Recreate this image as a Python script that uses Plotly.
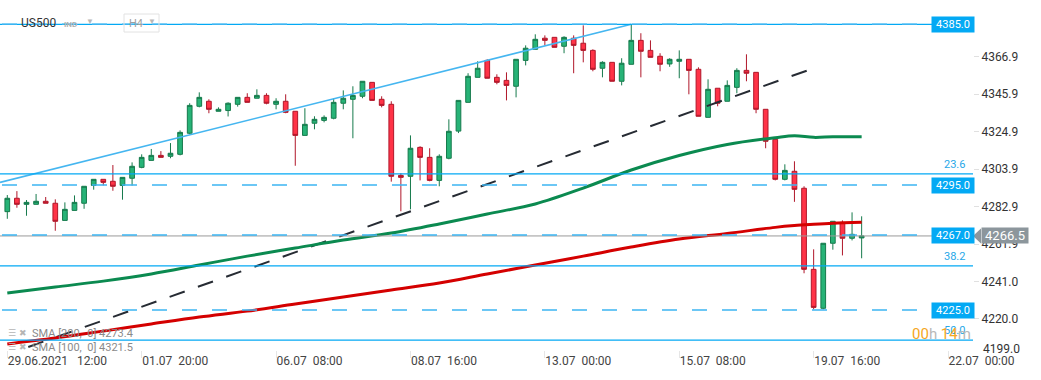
import plotly.graph_objects as go

# ---------------- data ----------------
candle_idx = list(range(90))
opens = [4280.1, 4287.6, 4284.2, 4284.2, 4285.9, 4284.8, 4275.2, 4280.8, 4284.8, 4294.8,
         4298.2, 4297.1, 4294.8, 4298.8, 4304.9, 4308.8, 4311.6, 4311.1, 4312.2, 4324.0,
         4339.1, 4341.9, 4336.3, 4336.7, 4340.2, 4344.1, 4343.6, 4345.2, 4340.2, 4341.9,
         4336.3, 4322.8, 4329.6, 4331.2, 4332.4, 4340.8, 4343.0, 4344.7, 4352.5, 4343.0,
         4340.2, 4300.4, 4299.9, 4316.1, 4310.5, 4297.6, 4310.0, 4325.2, 4341.3, 4355.3,
         4364.8, 4355.3, 4353.6, 4350.3, 4364.8, 4371.0, 4377.2, 4377.7, 4372.7, 4377.2,
         4374.4, 4370.4, 4360.4, 4363.7, 4353.1, 4362.6, 4376.0, 4370.4, 4367.1, 4362.8,
         4364.3, 4365.4, 4359.8, 4332.9, 4349.2, 4341.9, 4349.7, 4359.2, 4358.1, 4337.4,
         4320.6, 4298.2, 4302.7, 4293.2, 4247.8, 4226.0, 4262.4, 4274.1, 4265.2, 4265.4]
highs = [4289.4, 4291.6, 4286.6, 4290.0, 4288.3, 4287.0, 4285.3, 4289.2, 4294.3, 4298.2,
         4298.2, 4306.2, 4299.3, 4307.7, 4312.2, 4315.2, 4314.0, 4318.5, 4325.6, 4340.8,
         4346.9, 4343.0, 4338.5, 4341.3, 4344.1, 4346.4, 4348.6, 4346.4, 4343.6, 4345.8,
         4336.3, 4338.0, 4333.5, 4334.0, 4343.6, 4348.0, 4350.3, 4353.1, 4352.5, 4344.7,
         4341.9, 4301.6, 4322.8, 4316.7, 4315.6, 4312.2, 4331.8, 4342.4, 4357.6, 4364.3,
         4365.4, 4357.0, 4358.1, 4365.4, 4373.2, 4379.4, 4378.8, 4377.7, 4378.3, 4378.8,
         4384.4, 4371.0, 4364.3, 4363.7, 4366.0, 4385.0, 4380.0, 4376.0, 4368.8, 4366.0,
         4370.4, 4365.4, 4360.9, 4354.2, 4349.2, 4353.6, 4360.4, 4368.2, 4358.1, 4337.4,
         4320.6, 4306.6, 4308.3, 4294.3, 4259.0, 4262.4, 4274.7, 4275.2, 4279.7, 4277.5]
lows = [4276.1, 4282.3, 4277.8, 4284.2, 4284.8, 4269.4, 4275.2, 4280.8, 4281.7, 4292.4,
        4294.8, 4291.8, 4286.8, 4294.7, 4304.4, 4308.8, 4310.5, 4310.0, 4311.6, 4323.4,
        4338.5, 4335.2, 4336.3, 4333.4, 4338.9, 4341.3, 4343.6, 4340.2, 4337.4, 4335.2,
        4305.8, 4322.8, 4326.2, 4330.1, 4331.8, 4337.4, 4321.2, 4343.6, 4342.4, 4338.5,
        4296.9, 4280.3, 4281.4, 4297.6, 4297.1, 4294.3, 4309.4, 4324.1, 4341.3, 4355.3,
        4354.8, 4351.4, 4342.4, 4344.1, 4362.0, 4371.0, 4373.2, 4372.1, 4368.8, 4357.6,
        4363.7, 4358.7, 4355.3, 4353.1, 4350.8, 4362.6, 4355.3, 4366.5, 4358.7, 4361.2,
        4354.8, 4345.8, 4333.5, 4332.9, 4339.1, 4341.9, 4346.4, 4353.1, 4335.2, 4315.6,
        4297.6, 4297.6, 4285.6, 4245.6, 4225.4, 4225.4, 4258.8, 4255.6, 4264.0, 4254.0]
closes = [4287.6, 4284.2, 4285.3, 4285.9, 4284.8, 4274.7, 4281.4, 4285.3, 4294.3, 4298.2,
          4296.5, 4294.3, 4299.3, 4305.5, 4310.5, 4311.6, 4310.5, 4312.8, 4324.5, 4339.6,
          4344.1, 4337.4, 4337.4, 4340.8, 4344.1, 4341.3, 4345.2, 4340.8, 4341.9, 4335.7,
          4322.8, 4329.0, 4331.8, 4332.9, 4341.3, 4343.6, 4345.2, 4353.1, 4342.4, 4339.6,
          4299.9, 4299.3, 4315.6, 4310.5, 4297.6, 4311.1, 4325.1, 4342.4, 4355.9, 4360.4,
          4354.8, 4352.5, 4350.8, 4365.4, 4371.6, 4376.6, 4376.0, 4372.1, 4377.7, 4373.2,
          4370.4, 4359.8, 4363.7, 4353.1, 4363.2, 4376.0, 4369.9, 4366.5, 4362.6, 4365.4,
          4365.4, 4359.2, 4333.5, 4348.6, 4340.8, 4350.8, 4359.2, 4357.6, 4337.4, 4319.5,
          4298.2, 4303.2, 4292.6, 4247.8, 4226.5, 4262.4, 4274.7, 4265.2, 4267.4, 4266.5]

sma_idx = [0, 5, 10, 15, 20, 25, 30, 35, 40, 45, 50, 55, 60, 65, 70, 75, 80, 82, 84, 86, 89]
sma100 = [4234.5, 4237.9, 4241.2, 4245.2, 4250.2, 4255.2, 4259.7, 4264.2, 4268.1, 4273.2,
          4278.8, 4284.4, 4293.3, 4303.4, 4311.5, 4317.7, 4321.5, 4322.6, 4321.7, 4322.0, 4322.1]
sma200 = [4206.0, 4209.3, 4213.2, 4217.2, 4221.1, 4224.4, 4228.4, 4232.3, 4236.2, 4240.1,
          4245.2, 4250.2, 4255.2, 4260.3, 4264.8, 4267.9, 4271.3, 4272.3, 4273.0, 4273.6, 4274.2]

channel_x = [-0.76, 65]
channel_y = [4296.5, 4385.0]
trend_x = [-0.76, 84]
trend_y = [4198.7, 4360.4]

dashed_levels = [4385.0, 4295.0, 4267.0, 4225.0]
fib_levels = [4385.0, 4301.3, 4249.7, 4208.2]
fib_labels = ["", "23.6", "38.2", "50.0"]
last_price = 4266.5

x_tickvals = [0, 14, 28, 42, 56, 70, 84, 98]
x_ticktext = ["29.06.2021\u00a0\u00a0\u00a012:00", "01.07\u00a0\u00a020:00", "06.07\u00a0\u00a008:00",
              "08.07\u00a0\u00a016:00", "13.07\u00a0\u00a000:00", "15.07\u00a0\u00a008:00",
              "19.07\u00a0\u00a016:00", "22.07\u00a0\u00a000:00"]
y_tickvals = [4366.9, 4345.9, 4324.9, 4303.9, 4282.9, 4261.9, 4241.0, 4220.0]
y_extra_label = "4199.0"

sma_labels = ["SMA [200,\u00a0\u00a00] 4273.4", "SMA [100,\u00a0\u00a00] 4321.5"]

# ---------------- layout helpers ----------------
W, H = 1041, 380
PLOT_R = 973
PLOT_B = 350
FONT = "Roboto, Arial, sans-serif"


def xp(px):
    return px / PLOT_R


def yp(py):
    return (PLOT_B - py) / PLOT_B


GREEN_FILL, GREEN_LINE = "#27b377", "#167a4c"
RED_FILL, RED_LINE = "#ff3347", "#b0172a"
BLUE = "#03a9f4"

fig = go.Figure()
fig.add_trace(go.Candlestick(
    x=candle_idx, open=opens, high=highs, low=lows, close=closes,
    increasing=dict(line=dict(color=GREEN_LINE, width=1), fillcolor=GREEN_FILL),
    decreasing=dict(line=dict(color=RED_LINE, width=1), fillcolor=RED_FILL),
    whiskerwidth=0, showlegend=False, hoverinfo="skip"))

fig.add_trace(go.Scatter(x=channel_x, y=channel_y, mode="lines",
                         line=dict(color="#45b6f0", width=1.6), showlegend=False, hoverinfo="skip"))
fig.add_trace(go.Scatter(x=trend_x, y=trend_y, mode="lines",
                         line=dict(color="#262b33", width=2, dash="16px,14px"),
                         showlegend=False, hoverinfo="skip"))
fig.add_trace(go.Scatter(x=sma_idx, y=sma100, mode="lines", line_shape="spline",
                         line=dict(color="#0b8a50", width=3), showlegend=False, hoverinfo="skip"))
fig.add_trace(go.Scatter(x=sma_idx, y=sma200, mode="lines", line_shape="spline",
                         line=dict(color="#d40000", width=3), showlegend=False, hoverinfo="skip"))

shapes = []
# fib solid lines
for lv in fib_levels:
    shapes.append(dict(type="line", xref="paper", yref="y", x0=0, x1=1, y0=lv, y1=lv,
                       line=dict(color=BLUE, width=1.2), layer="above"))
# current price line
shapes.append(dict(type="line", xref="paper", yref="y", x0=0, x1=1, y0=last_price, y1=last_price,
                   line=dict(color="#9a9a9a", width=1), layer="above"))
# dashed levels
for lv in dashed_levels:
    shapes.append(dict(type="line", xref="paper", yref="y", x0=xp(2), x1=xp(931), y0=lv, y1=lv,
                       line=dict(color="#3db5f2", width=1.6, dash="15px,15px"), layer="above"))
# current price box arrow
shapes.append(dict(type="path", xref="paper", yref="y",
                   path=f"M {xp(973)},{last_price} L {xp(981)},{last_price + 4.2} "
                        f"L {xp(981)},{last_price - 4.2} Z",
                   fillcolor="#8c969c", line=dict(width=0), layer="above"))
# H4 box
shapes.append(dict(type="rect", xref="paper", yref="paper", x0=xp(124), x1=xp(159),
                   y0=yp(32), y1=yp(14), line=dict(color="#e2e2e2", width=1),
                   fillcolor="rgba(255,255,255,0)", layer="above"))

ann = []
for lv in dashed_levels:
    ann.append(dict(xref="paper", yref="y", x=xp(931), y=lv, xanchor="left", yanchor="middle",
                    text=f"{lv:.1f}", showarrow=False, bgcolor=BLUE, width=38, height=11,
                    borderpad=2, font=dict(family=FONT, size=11, color="white")))
for lv, lab in zip(fib_levels, fib_labels):
    if lab:
        ann.append(dict(xref="paper", yref="y", x=xp(967), y=lv, xanchor="right", yanchor="bottom",
                        text=lab, showarrow=False, yshift=1,
                        font=dict(family=FONT, size=11, color="#27a8e8")))
ann.append(dict(xref="paper", yref="y", x=xp(981), y=last_price, xanchor="left", yanchor="middle",
                text=f"{last_price:.1f}", showarrow=False, bgcolor="#8c969c", width=44, height=13,
                borderpad=1, font=dict(family=FONT, size=13, color="white")))
ann.append(dict(xref="paper", yref="paper", x=xp(981), y=yp(349), xanchor="left", yanchor="middle",
                text=y_extra_label, showarrow=False, font=dict(family=FONT, size=12, color="#333")))
# header
ann.append(dict(xref="paper", yref="paper", x=xp(19), y=yp(23), xanchor="left", yanchor="middle",
                text="US500", showarrow=False, font=dict(family=FONT, size=12, color="#333")))
ann.append(dict(xref="paper", yref="paper", x=xp(62), y=yp(24), xanchor="left", yanchor="middle",
                text="<b>IND</b>", showarrow=False, font=dict(family=FONT, size=8, color="#b0b0b0")))
ann.append(dict(xref="paper", yref="paper", x=xp(84), y=yp(22), xanchor="left", yanchor="middle",
                text="▼", showarrow=False, font=dict(family=FONT, size=8, color="#b8b8b8")))
ann.append(dict(xref="paper", yref="paper", x=xp(127), y=yp(23), xanchor="left", yanchor="middle",
                text="H4", showarrow=False, font=dict(family=FONT, size=11, color="#a0a0a0")))
ann.append(dict(xref="paper", yref="paper", x=xp(146), y=yp(22), xanchor="left", yanchor="middle",
                text="▼", showarrow=False, font=dict(family=FONT, size=8, color="#b8b8b8")))
# SMA legend
for lab, py in zip(sma_labels, [333, 347]):
    ann.append(dict(xref="paper", yref="paper", x=xp(6), y=yp(py), xanchor="left", yanchor="middle",
                    text="☰ ✖", showarrow=False, font=dict(family="DejaVu Sans", size=9, color="#b5b5b5")))
    ann.append(dict(xref="paper", yref="paper", x=xp(30), y=yp(py), xanchor="left", yanchor="middle",
                    text=lab, showarrow=False, font=dict(family=FONT, size=11, color="#8a8a8a")))
# countdown
ann.append(dict(xref="paper", yref="paper", x=xp(973), y=yp(334), xanchor="right", yanchor="middle",
                text="<span style='color:#f5a623'>00</span>h <span style='color:#f5a623'>14</span>m",
                showarrow=False, font=dict(family=FONT, size=15, color="#b8b8b8")))

fig.update_layout(
    width=W, height=H, margin=dict(l=0, r=W - PLOT_R, t=0, b=H - PLOT_B),
    paper_bgcolor="white", plot_bgcolor="white", showlegend=False,
    shapes=shapes, annotations=ann, hovermode=False,
    xaxis=dict(type="linear", range=[-0.76, 100.6], tickvals=x_tickvals, ticktext=x_ticktext,
               ticks="outside", ticklen=7, tickcolor="#e6e6e6", ticklabelposition="outside right",
               showgrid=False, zeroline=False, showline=False, rangeslider=dict(visible=False),
               tickfont=dict(family=FONT, size=12, color="#444"), automargin=False),
    yaxis=dict(side="right", range=[4385 - (PLOT_B - 24.3) / 1.786, 4385 + 24.3 / 1.786],
               tickvals=y_tickvals, ticktext=[f"{v:.1f}" for v in y_tickvals],
               ticks="outside", ticklen=5, tickcolor="#e0e0e0", showgrid=False, zeroline=False,
               showline=False, tickfont=dict(family=FONT, size=12, color="#333"), automargin=False),
)

fig.write_html("out.html", config=dict(displayModeBar=False),
               post_script="document.body.style.margin='0';document.body.style.overflow='hidden';")
